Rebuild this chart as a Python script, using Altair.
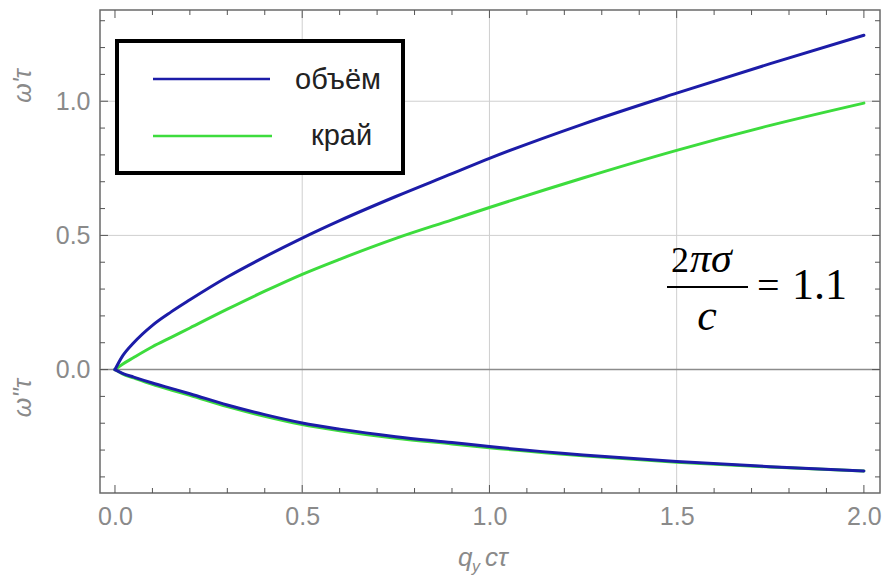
import altair as alt
import pandas as pd

# ---- data ----
q_vals = [0, 0.02, 0.05, 0.1, 0.15, 0.2, 0.3, 0.4, 0.5, 0.6, 0.75, 0.9, 1.0, 1.25, 1.5, 1.75, 2.0]
bulk_re = [0, 0.05, 0.10, 0.165, 0.215, 0.26, 0.345, 0.42, 0.49, 0.555, 0.645, 0.73, 0.787, 0.915, 1.03, 1.14, 1.246]
edge_re = [0, 0.02, 0.045, 0.085, 0.12, 0.155, 0.225, 0.292, 0.355, 0.411, 0.489, 0.558, 0.604, 0.714, 0.817, 0.91, 0.993]
bulk_im = [0, -0.014, -0.028, -0.05, -0.07, -0.09, -0.132, -0.168, -0.199, -0.222, -0.25, -0.272, -0.287, -0.318, -0.343, -0.362, -0.378]
edge_im = [0, -0.016, -0.031, -0.055, -0.076, -0.096, -0.138, -0.174, -0.205, -0.228, -0.256, -0.277, -0.291, -0.321, -0.345, -0.363, -0.378]

series_names = ["объём", "край"]
x_major = [0.0, 0.5, 1.0, 1.5, 2.0]
x_minor = [0.1, 0.2, 0.3, 0.4, 0.6, 0.7, 0.8, 0.9, 1.1, 1.2, 1.3, 1.4, 1.6, 1.7, 1.8, 1.9]
y_major = [0.0, 0.5, 1.0]
y_minor = [-0.4, -0.3, -0.2, -0.1, 0.1, 0.2, 0.3, 0.4, 0.6, 0.7, 0.8, 0.9, 1.1, 1.2, 1.3]
grid_x = [0.5, 1.0, 1.5]
grid_y = [0.5, 1.0]

W, H = 780, 483
BLUE = "#1c1ca8"
GREEN = "#3ddc3d"
GRAY = "#8a8a8a"
FONT = "Liberation Sans"

rows = []
for name, re_, im_ in [("край", edge_re, edge_im), ("объём", bulk_re, bulk_im)]:
    for q, r in zip(q_vals, re_):
        rows.append({"q": q, "w": r, "series": name, "part": name + "_re"})
    for q, i in zip(q_vals, im_):
        rows.append({"q": q, "w": i, "series": name, "part": name + "_im"})
df = pd.DataFrame(rows)

xs = alt.Scale(domain=[-0.04, 2.043], nice=False, zero=False)
ys = alt.Scale(domain=[-0.46, 1.34], nice=False, zero=False)
xaxis = alt.Axis(values=x_major, format=".1f", title=None, ticks=False, tickSize=0, domain=False,
                 grid=False, labelFontSize=25, labelColor=GRAY, labelFont=FONT, labelPadding=11)
yaxis = alt.Axis(values=y_major, format=".1f", title=None, ticks=False, tickSize=0, domain=False,
                 grid=False, labelFontSize=25, labelColor=GRAY, labelFont=FONT, labelPadding=10)

def X(f):
    return alt.X(f, scale=xs, axis=xaxis)

def Y(f):
    return alt.Y(f, scale=ys, axis=yaxis)

grid_v = alt.Chart(pd.DataFrame({"g": grid_x})).mark_rule(color="#cfcfcf", strokeWidth=1).encode(x=X("g:Q"))
grid_h = alt.Chart(pd.DataFrame({"g": grid_y})).mark_rule(color="#cfcfcf", strokeWidth=1).encode(y=Y("g:Q"))
zero_line = alt.Chart(pd.DataFrame({"z": [0.0]})).mark_rule(color="#8c8c8c", strokeWidth=1.5).encode(y=Y("z:Q"))

def xticks(vals, length):
    d = pd.DataFrame({"t": vals})
    b = alt.Chart(d).mark_rule(color="#555555", strokeWidth=1).encode(
        x=X("t:Q"), y=alt.value(H), y2=alt.value(H - length))
    t = alt.Chart(d).mark_rule(color="#555555", strokeWidth=1).encode(
        x=X("t:Q"), y=alt.value(0), y2=alt.value(length))
    return [b, t]

def yticks(vals, length):
    d = pd.DataFrame({"t": vals})
    l = alt.Chart(d).mark_rule(color="#555555", strokeWidth=1).encode(
        y=Y("t:Q"), x=alt.value(0), x2=alt.value(length))
    r = alt.Chart(d).mark_rule(color="#555555", strokeWidth=1).encode(
        y=Y("t:Q"), x=alt.value(W), x2=alt.value(W - length))
    return [l, r]

ticks = xticks(x_major, 8) + xticks(x_minor, 5) + yticks(y_major, 8) + yticks(y_minor, 5)

curves = alt.Chart(df).mark_line(strokeWidth=3, strokeCap="round", interpolate="monotone").encode(
    x=X("q:Q"),
    y=Y("w:Q"),
    color=alt.Color("series:N", scale=alt.Scale(domain=series_names, range=[BLUE, GREEN]), legend=None),
    detail="part:N",
)

one = pd.DataFrame({"k": [0]})

def txt(text, x, y, size, color="#000000", font=FONT, style="normal", align="left", baseline="alphabetic", angle=0):
    return alt.Chart(one).mark_text(text=text, fontSize=size, color=color, font=font, fontStyle=style,
                                    align=align, baseline=baseline, angle=angle).encode(
        x=alt.value(x), y=alt.value(y))

# legend box
legend_box = alt.Chart(one).mark_rect(fill="white", stroke="black", strokeWidth=4).encode(
    x=alt.value(17), x2=alt.value(303), y=alt.value(31), y2=alt.value(163))
leg_l1 = alt.Chart(one).mark_rule(color=BLUE, strokeWidth=2.5).encode(
    x=alt.value(53), x2=alt.value(170), y=alt.value(69))
leg_l2 = alt.Chart(one).mark_rule(color=GREEN, strokeWidth=2.5).encode(
    x=alt.value(53), x2=alt.value(172), y=alt.value(126))
leg_t1 = txt(series_names[0], 195, 70, 29, color="#222222", baseline="middle")
leg_t2 = txt(series_names[1], 211, 126, 29, color="#222222", baseline="middle")

# formula annotation
frac_bar = alt.Chart(one).mark_rule(color="black", strokeWidth=2).encode(
    x=alt.value(567), x2=alt.value(648), y=alt.value(277))
f_two = txt("2", 589, 262, 36, font="Liberation Serif", align="right")
f_pisig = txt("πσ", 590, 262, 42, font="Liberation Serif", style="italic")
f_c = txt("c", 607, 320, 44, font="Liberation Serif", style="italic", align="center")
f_eq = txt("=", 657, 289, 40, font="Liberation Serif")
f_val = txt("1.1", 692, 289, 44, font="Liberation Serif")

# axis titles
yt1 = txt("ω'τ", -77, 76, 25, color=GRAY, style="italic", align="center", baseline="middle", angle=270)
yt2 = txt("ω''τ", -77, 388, 25, color=GRAY, style="italic", align="center", baseline="middle", angle=270)
xt_q = txt("q", 358, 556, 26, color=GRAY, style="italic")
xt_y = txt("y", 372, 562, 16, color=GRAY, style="italic")
xt_ct = txt("cτ", 385, 556, 26, color=GRAY, style="italic")

chart = alt.layer(
    grid_v, grid_h, zero_line, *ticks, curves,
    legend_box, leg_l1, leg_l2, leg_t1, leg_t2,
    frac_bar, f_two, f_pisig, f_c, f_eq, f_val,
    yt1, yt2, xt_q, xt_y, xt_ct,
).properties(
    width=W, height=H, autosize="none",
    padding={"left": 100, "top": 10, "right": 9, "bottom": 89},
    background="white",
).configure_view(stroke="#6a6a6a", strokeWidth=1.5)

chart.save("out.html", embed_options={"renderer": "svg", "actions": False})
